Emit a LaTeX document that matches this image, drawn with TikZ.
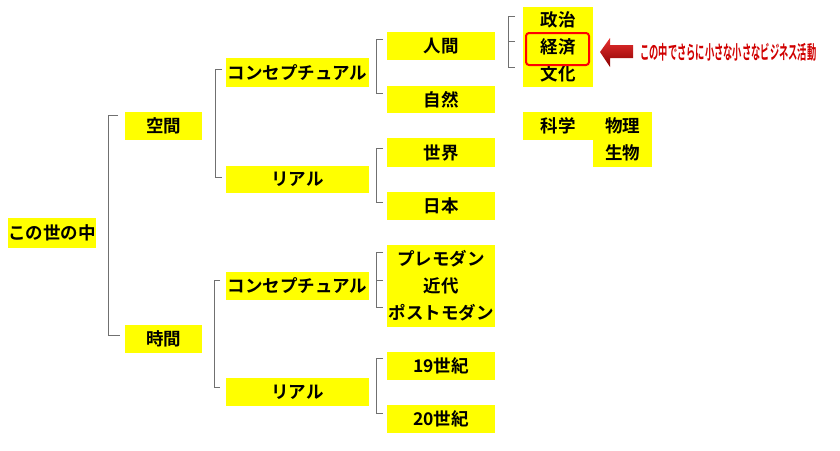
\documentclass[tikz,border=0pt]{standalone}
\usepackage{fontspec}
\usepackage{graphicx}
\newfontfamily\jp{Noto Sans CJK JP}[BoldFont=* Bold]
\definecolor{boxyellow}{HTML}{FFFF00}
\definecolor{brgray}{HTML}{707070}
\definecolor{redtext}{HTML}{D00000}
\definecolor{arrowdark}{HTML}{8A0000}
\definecolor{arrowlight}{HTML}{E83030}
\tikzset{
  ybox/.style={fill=boxyellow, draw=none, inner sep=0pt, align=center,
    font=\jp\bfseries\fontsize{17.5}{27}\selectfont, text=black},
  brline/.style={draw=brgray, line width=0.9pt},
}
\begin{document}
\begin{tikzpicture}[x=1pt,y=-1pt]
\useasboundingbox (0,0) rectangle (840,450);
% level 0
\node[ybox, minimum width=88pt, minimum height=30pt] (world) at (52,233) {この世の中};
% level 1
\node[ybox, minimum width=77pt, minimum height=28pt] (kukan) at (163.5,126) {空間};
\node[ybox, minimum width=77pt, minimum height=28pt] (jikan) at (163.5,339) {時間};
% level 2
\node[ybox, minimum width=143pt, minimum height=29pt] (c1) at (297.5,72.5) {コンセプチュアル};
\node[ybox, minimum width=143pt, minimum height=27pt] (r1) at (297.5,179.5) {リアル};
\node[ybox, minimum width=143pt, minimum height=28pt] (c2) at (297.5,286) {コンセプチュアル};
\node[ybox, minimum width=143pt, minimum height=28pt] (r2) at (297.5,392) {リアル};
% level 3
\node[ybox, minimum width=108pt, minimum height=28pt] (ningen) at (441,46) {人間};
\node[ybox, minimum width=108pt, minimum height=27pt] (shizen) at (441,99.5) {自然};
\node[ybox, minimum width=108pt, minimum height=29pt] (sekai) at (441,152.5) {世界};
\node[ybox, minimum width=108pt, minimum height=28pt] (nihon) at (441,206) {日本};
\node[ybox, minimum width=108pt, minimum height=82pt] (eras) at (441,286) {プレモダン\\近代\\ポストモダン};
\node[ybox, minimum width=108pt, minimum height=28pt] (c19) at (441,366) {19世紀};
\node[ybox, minimum width=108pt, minimum height=28pt] (c20) at (441,419) {20世紀};
% level 4
\node[ybox, minimum width=70pt, minimum height=80pt] (soc) at (558,47) {政治\\経済\\文化};
\node[ybox, minimum width=70pt, minimum height=28pt] (kagaku) at (558,126) {科学};
\node[ybox, minimum width=59pt, minimum height=55pt] (sci) at (622.5,139.5) {物理\\生物};
% highlight round 経済
\node[draw=red, line width=2pt, rounded corners=3pt, minimum width=63pt, minimum height=32pt, inner sep=0pt] (keizai) at (557.5,49) {};
% arrow
\shade[top color=arrowlight, bottom color=arrowdark, draw=none]
  (600,52) -- (610,38) -- (610,45) -- (633,45) -- (633,58) -- (610,58) -- (610,67) -- cycle;
\coordinate (arrowtip) at (600,52);
\node[anchor=west, inner sep=0pt, text=redtext, font=\jp\bfseries\fontsize{19}{19}\selectfont] (note) at (640,52)
  {\scalebox{0.488}[1]{この中でさらに小さな小さなビジネス活動}};
% brackets level 1
\coordinate (b1t) at (108,115); \coordinate (b1b) at (108,335);
\draw[brline] (118,115) -- (b1t) -- (b1b) -- (120,335);
% level 2 brackets
\coordinate (b2at) at (215,69); \coordinate (b2ab) at (215,177);
\draw[brline] (222,69) -- (b2at) -- (b2ab) -- (222,177);
\coordinate (b2bt) at (214,280); \coordinate (b2bb) at (214,387);
\draw[brline] (220,280) -- (b2bt) -- (b2bb) -- (220,387);
% level 3 brackets
\draw[brline] (383,39) -- (376,39) -- (376,93) -- (383,93);
\draw[brline] (383,148) -- (376,148) -- (376,202) -- (383,202);
\draw[brline] (383,252) -- (376,252) -- (376,307) -- (383,307);
\draw[brline] (376,280) -- (383,280);
\draw[brline] (383,358) -- (376,358) -- (376,413) -- (383,413);
% level 4 bracket
\draw[brline] (515,16) -- (508,16) -- (508,67) -- (515,67);
\draw[brline] (508,41) -- (515,41);
\end{tikzpicture}
\end{document}
